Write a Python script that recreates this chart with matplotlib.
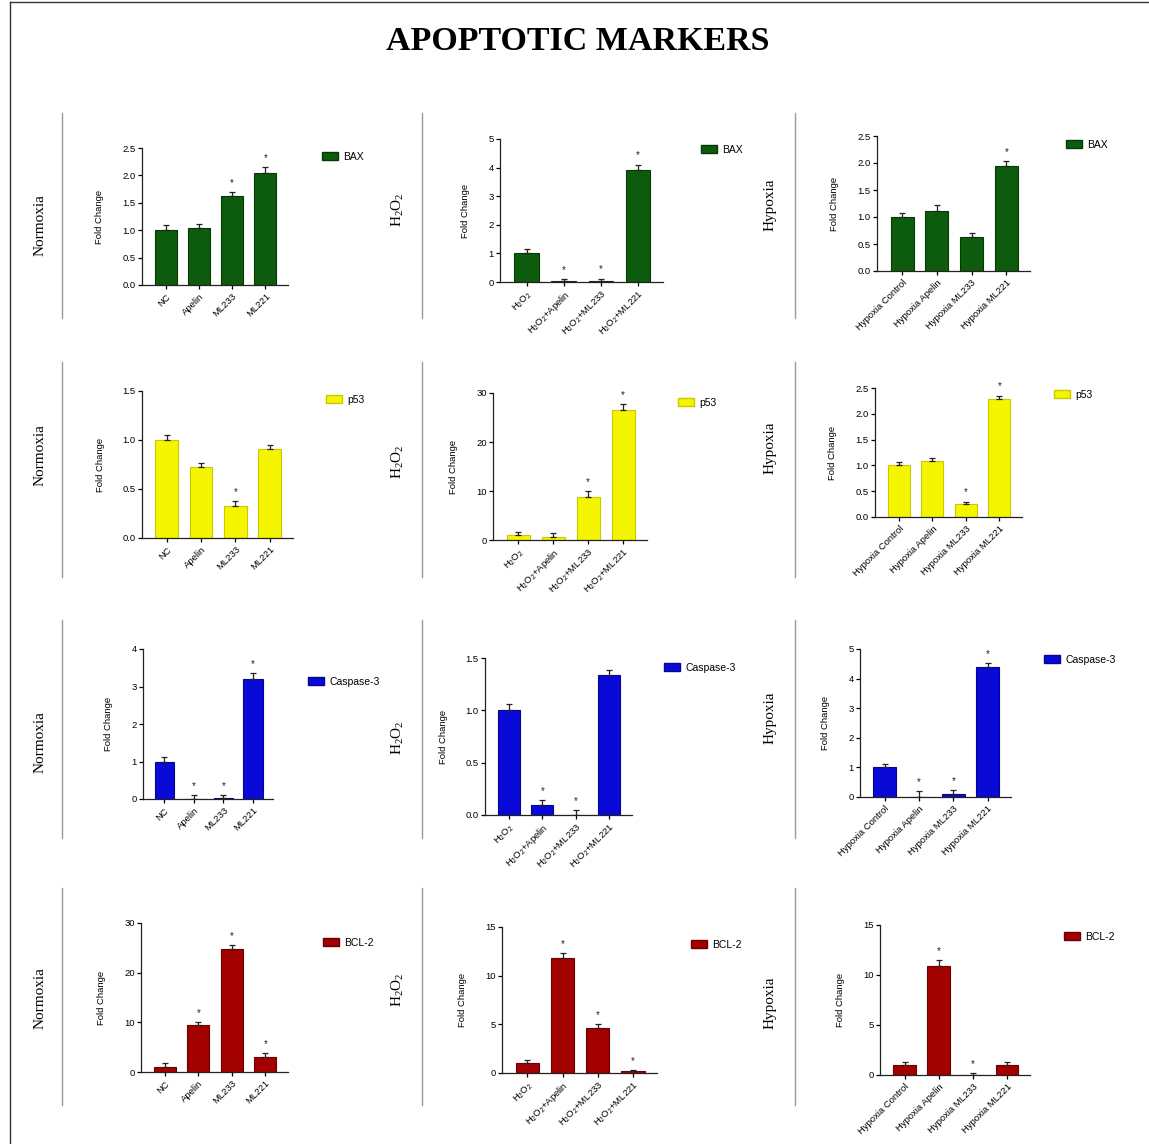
import matplotlib
matplotlib.use('Agg')
import matplotlib.pyplot as plt
from matplotlib.patches import Patch

plt.rcParams['font.family'] = ['Liberation Sans', 'DejaVu Sans']
plt.rcParams['mathtext.default'] = 'regular'

W, H = 1149, 1144

H2 = 'H$_\\mathregular{2}$O$_\\mathregular{2}$'

conditions = ['Normoxia', H2, 'Hypoxia']
groups = [
    ['NC', 'Apelin', 'ML233', 'ML221'],
    [H2, H2 + '+Apelin', H2 + '+ML233', H2 + '+ML221'],
    ['Hypoxia Control', 'Hypoxia Apelin', 'Hypoxia ML233', 'Hypoxia ML221'],
]
markers = ['BAX', 'p53', 'Caspase-3', 'BCL-2']
colors = ['#0d5c0d', '#f5f500', '#0a0ad8', '#a30000']
edge_colors = ['#063806', '#c8c800', '#050590', '#6a0000']

# fold change means, one list per (marker, condition)
bax_mean = [[1.0, 1.04, 1.63, 2.05], [1.0, 0.03, 0.02, 3.9], [1.0, 1.12, 0.63, 1.94]]
bax_err = [[0.1, 0.08, 0.07, 0.1], [0.15, 0.08, 0.1, 0.2], [0.07, 0.1, 0.08, 0.1]]
bax_sig = [[0, 0, 1, 1], [0, 1, 1, 1], [0, 0, 0, 1]]

p53_mean = [[1.0, 0.72, 0.33, 0.91], [1.1, 0.6, 8.8, 26.5], [1.0, 1.08, 0.25, 2.28]]
p53_err = [[0.05, 0.05, 0.05, 0.04], [0.5, 0.8, 1.2, 1.3], [0.07, 0.07, 0.05, 0.07]]
p53_sig = [[0, 0, 1, 0], [0, 0, 1, 1], [0, 0, 1, 1]]

casp3_mean = [[1.0, 0.0, 0.03, 3.2], [1.0, 0.1, 0.0, 1.34], [1.0, 0.0, 0.1, 4.38]]
casp3_err = [[0.13, 0.1, 0.07, 0.15], [0.06, 0.04, 0.05, 0.05], [0.12, 0.2, 0.12, 0.15]]
casp3_sig = [[0, 1, 1, 1], [0, 1, 1, 0], [0, 1, 1, 1]]

bcl2_mean = [[1.0, 9.5, 24.8, 3.0], [1.0, 11.8, 4.6, 0.2], [1.0, 10.9, 0.0, 1.0]]
bcl2_err = [[0.8, 0.5, 0.8, 0.8], [0.3, 0.5, 0.4, 0.1], [0.3, 0.6, 0.2, 0.3]]
bcl2_sig = [[0, 1, 1, 1], [0, 1, 1, 1], [0, 1, 1, 0]]

means = [bax_mean, p53_mean, casp3_mean, bcl2_mean]
errs = [bax_err, p53_err, casp3_err, bcl2_err]
sigs = [bax_sig, p53_sig, casp3_sig, bcl2_sig]

y_max = [[2.5, 5, 2.5], [1.5, 30, 2.5], [4, 1.5, 5], [30, 15, 15]]
y_step = [[0.5, 1, 0.5], [0.5, 10, 0.5], [1, 0.5, 1], [10, 5, 5]]

# axes boxes in pixels: left, top, right, bottom
boxes = [
    [(142, 148, 288, 285), (500, 139, 663, 282), (877, 136, 1030, 271)],
    [(142, 391, 293, 538), (493, 393, 647, 540), (875, 388, 1022, 517)],
    [(143, 649, 273, 799), (485, 658, 632, 815), (860, 649, 1011, 797)],
    [(141, 923, 288, 1072), (502, 927, 657, 1073), (880, 925, 1030, 1075)],
]
legend_pos = [
    [(321, 157), (700, 150), (1065, 145)],
    [(325, 400), (677, 403), (1053, 395)],
    [(307, 682), (663, 668), (1043, 660)],
    [(322, 943), (690, 945), (1063, 937)],
]
label_x = [40, 398, 770]
label_y = [[225, 210, 205], [455, 462, 448], [742, 738, 718], [998, 990, 1003]]
divider_x = [62, 422, 795]
divider_y = [(113, 318), (362, 577), (620, 838), (888, 1105)]

fig = plt.figure(figsize=(W / 100, H / 100), dpi=100)

fig.text(0.503, 1 - 42 / H, 'APOPTOTIC MARKERS', ha='center', va='center',
         family='Liberation Serif', fontweight='bold', fontsize=24.5)

# page frame
fig.add_artist(plt.Line2D([10 / W, 10 / W], [0, 1 - 2 / H], transform=fig.transFigure,
                          color='#333333', lw=1))
fig.add_artist(plt.Line2D([10 / W, 1], [1 - 2 / H, 1 - 2 / H], transform=fig.transFigure,
                          color='#333333', lw=1))

for r in range(4):
    for c in range(3):
        x0, y0, x1, y1 = boxes[r][c]
        ax = fig.add_axes([x0 / W, 1 - y1 / H, (x1 - x0) / W, (y1 - y0) / H])
        vals = means[r][c]
        err = errs[r][c]
        xs = list(range(4))
        ax.bar(xs, vals, width=0.66, color=colors[r], edgecolor=edge_colors[r], linewidth=0.8,
               zorder=2)
        ax.errorbar(xs, vals, yerr=[[0] * 4, err], fmt='none', ecolor='#222222',
                    elinewidth=0.9, capsize=2.5, capthick=0.9, zorder=3)
        for i in xs:
            if sigs[r][c][i]:
                ax.annotate('*', (i, vals[i] + err[i]), xytext=(0, 3), textcoords='offset points',
                            ha='center', va='bottom', fontsize=7, color='#222222')
        ax.set_xlim(-0.72, 3.68)
        ax.set_ylim(0, y_max[r][c])
        ticks = [k * y_step[r][c] for k in range(int(round(y_max[r][c] / y_step[r][c])) + 1)]
        ax.set_yticks(ticks)
        if y_step[r][c] < 1:
            ax.set_yticklabels(['%.1f' % t for t in ticks])
        else:
            ax.set_yticklabels(['%d' % t for t in ticks])
        ax.set_xticks(xs)
        ax.set_xticklabels(groups[c], rotation=45, ha='right', rotation_mode='anchor',
                           fontsize=6.8)
        ax.tick_params(axis='y', labelsize=6.8, length=3, width=0.9, pad=1.5)
        ax.tick_params(axis='x', length=3, width=0.9, pad=2)
        ax.set_ylabel('Fold Change', fontsize=6.8, labelpad=13)
        for s in ['top', 'right']:
            ax.spines[s].set_visible(False)
        for s in ['left', 'bottom']:
            ax.spines[s].set_linewidth(0.9)
            ax.spines[s].set_color('#222222')
        ax.patch.set_alpha(0)

        lx, ly = legend_pos[r][c]
        ax.legend(handles=[Patch(facecolor=colors[r], edgecolor=edge_colors[r])],
                  labels=[markers[r]], loc='center left',
                  bbox_to_anchor=(lx / W - 0.004, 1 - ly / H), bbox_transform=fig.transFigure,
                  frameon=False, fontsize=7.5, handlelength=1.6, handleheight=0.8,
                  handletextpad=0.5, borderpad=0)

        fig.text(label_x[c] / W, 1 - label_y[r][c] / H, conditions[c], rotation=90,
                 ha='center', va='center', family='Liberation Serif', fontsize=11)
        fig.add_artist(plt.Line2D([divider_x[c] / W] * 2,
                                  [1 - divider_y[r][0] / H, 1 - divider_y[r][1] / H],
                                  transform=fig.transFigure, color='#9a9a9a', lw=1))

fig.savefig('out.png', dpi=100)
